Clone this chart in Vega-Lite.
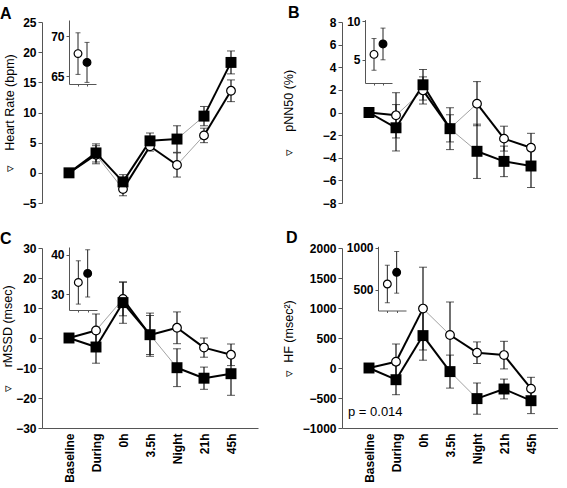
{
  "$schema": "https://vega.github.io/schema/vega-lite/v6.json",
  "padding": {"left": 0, "top": 4, "right": 0, "bottom": 0},
  "datasets": {
    "main": [
      {"p":"A","g":"open","time":"Baseline","t":0,"mean":0,"sem":0,"sig":"yes"},
      {"p":"A","g":"open","time":"During","t":1,"mean":3.0,"sem":1.5,"sig":"yes"},
      {"p":"A","g":"open","time":"0h","t":2,"mean":-2.7,"sem":1.1,"sig":"no"},
      {"p":"A","g":"open","time":"3.5h","t":3,"mean":4.4,"sem":0.8,"sig":"yes"},
      {"p":"A","g":"open","time":"Night","t":4,"mean":1.3,"sem":2.0,"sig":"yes"},
      {"p":"A","g":"open","time":"21h","t":5,"mean":6.2,"sem":1.2,"sig":"no"},
      {"p":"A","g":"open","time":"45h","t":6,"mean":13.6,"sem":1.8,"sig":"yes"},
      {"p":"A","g":"filled","time":"Baseline","t":0,"mean":0,"sem":0,"sig":"yes"},
      {"p":"A","g":"filled","time":"During","t":1,"mean":3.3,"sem":1.5,"sig":"yes"},
      {"p":"A","g":"filled","time":"0h","t":2,"mean":-1.5,"sem":1.2,"sig":"yes"},
      {"p":"A","g":"filled","time":"3.5h","t":3,"mean":5.3,"sem":1.3,"sig":"yes"},
      {"p":"A","g":"filled","time":"Night","t":4,"mean":5.6,"sem":2.2,"sig":"yes"},
      {"p":"A","g":"filled","time":"21h","t":5,"mean":9.4,"sem":1.6,"sig":"no"},
      {"p":"A","g":"filled","time":"45h","t":6,"mean":18.3,"sem":1.9,"sig":"yes"},

      {"p":"B","g":"open","time":"Baseline","t":0,"mean":0,"sem":0,"sig":"yes"},
      {"p":"B","g":"open","time":"During","t":1,"mean":-0.25,"sem":2.0,"sig":"yes"},
      {"p":"B","g":"open","time":"0h","t":2,"mean":1.95,"sem":1.2,"sig":"no"},
      {"p":"B","g":"open","time":"3.5h","t":3,"mean":-1.4,"sem":1.2,"sig":"yes"},
      {"p":"B","g":"open","time":"Night","t":4,"mean":0.78,"sem":1.95,"sig":"no"},
      {"p":"B","g":"open","time":"21h","t":5,"mean":-2.31,"sem":1.1,"sig":"yes"},
      {"p":"B","g":"open","time":"45h","t":6,"mean":-3.11,"sem":1.27,"sig":"yes"},
      {"p":"B","g":"filled","time":"Baseline","t":0,"mean":0,"sem":0,"sig":"yes"},
      {"p":"B","g":"filled","time":"During","t":1,"mean":-1.35,"sem":2.05,"sig":"yes"},
      {"p":"B","g":"filled","time":"0h","t":2,"mean":2.45,"sem":1.35,"sig":"yes"},
      {"p":"B","g":"filled","time":"3.5h","t":3,"mean":-1.43,"sem":1.85,"sig":"yes"},
      {"p":"B","g":"filled","time":"Night","t":4,"mean":-3.43,"sem":2.4,"sig":"no"},
      {"p":"B","g":"filled","time":"21h","t":5,"mean":-4.32,"sem":1.35,"sig":"yes"},
      {"p":"B","g":"filled","time":"45h","t":6,"mean":-4.73,"sem":1.9,"sig":"yes"},

      {"p":"C","g":"open","time":"Baseline","t":0,"mean":0,"sem":0,"sig":"yes"},
      {"p":"C","g":"open","time":"During","t":1,"mean":2.5,"sem":5.5,"sig":"yes"},
      {"p":"C","g":"open","time":"0h","t":2,"mean":13.0,"sem":5.6,"sig":"no"},
      {"p":"C","g":"open","time":"3.5h","t":3,"mean":1.0,"sem":6.5,"sig":"yes"},
      {"p":"C","g":"open","time":"Night","t":4,"mean":3.4,"sem":5.3,"sig":"yes"},
      {"p":"C","g":"open","time":"21h","t":5,"mean":-3.2,"sem":3.2,"sig":"yes"},
      {"p":"C","g":"open","time":"45h","t":6,"mean":-5.6,"sem":3.6,"sig":"yes"},
      {"p":"C","g":"filled","time":"Baseline","t":0,"mean":0,"sem":0,"sig":"yes"},
      {"p":"C","g":"filled","time":"During","t":1,"mean":-3.0,"sem":5.4,"sig":"yes"},
      {"p":"C","g":"filled","time":"0h","t":2,"mean":11.8,"sem":6.9,"sig":"yes"},
      {"p":"C","g":"filled","time":"3.5h","t":3,"mean":1.1,"sem":7.2,"sig":"yes"},
      {"p":"C","g":"filled","time":"Night","t":4,"mean":-9.9,"sem":6.3,"sig":"no"},
      {"p":"C","g":"filled","time":"21h","t":5,"mean":-13.4,"sem":3.7,"sig":"yes"},
      {"p":"C","g":"filled","time":"45h","t":6,"mean":-11.9,"sem":7.2,"sig":"yes"},

      {"p":"D","g":"open","time":"Baseline","t":0,"mean":0,"sem":0,"sig":"yes"},
      {"p":"D","g":"open","time":"During","t":1,"mean":105,"sem":295,"sig":"yes"},
      {"p":"D","g":"open","time":"0h","t":2,"mean":990,"sem":690,"sig":"yes"},
      {"p":"D","g":"open","time":"3.5h","t":3,"mean":550,"sem":550,"sig":"no"},
      {"p":"D","g":"open","time":"Night","t":4,"mean":255,"sem":180,"sig":"yes"},
      {"p":"D","g":"open","time":"21h","t":5,"mean":215,"sem":230,"sig":"yes"},
      {"p":"D","g":"open","time":"45h","t":6,"mean":-345,"sem":190,"sig":"yes"},
      {"p":"D","g":"filled","time":"Baseline","t":0,"mean":0,"sem":0,"sig":"yes"},
      {"p":"D","g":"filled","time":"During","t":1,"mean":-195,"sem":250,"sig":"yes"},
      {"p":"D","g":"filled","time":"0h","t":2,"mean":540,"sem":410,"sig":"yes"},
      {"p":"D","g":"filled","time":"3.5h","t":3,"mean":-60,"sem":275,"sig":"yes"},
      {"p":"D","g":"filled","time":"Night","t":4,"mean":-510,"sem":260,"sig":"no"},
      {"p":"D","g":"filled","time":"21h","t":5,"mean":-350,"sem":165,"sig":"yes"},
      {"p":"D","g":"filled","time":"45h","t":6,"mean":-545,"sem":215,"sig":"yes"}
    ],
    "inset": [
      {"p":"A","g":"open","ix":1,"mean":67.8,"sem":2.6},
      {"p":"A","g":"filled","ix":2,"mean":66.7,"sem":2.5},
      {"p":"B","g":"open","ix":1,"mean":5.7,"sem":2.05},
      {"p":"B","g":"filled","ix":2,"mean":7.05,"sem":2.05},
      {"p":"C","g":"open","ix":1,"mean":33.0,"sem":5.5},
      {"p":"C","g":"filled","ix":2,"mean":35.3,"sem":6.0},
      {"p":"D","g":"open","ix":1,"mean":568,"sem":225},
      {"p":"D","g":"filled","ix":2,"mean":708,"sem":250}
    ],
    "notes": [
      {"p":"D","label":"p = 0.014","time":"Baseline","y":-800}
    ]
  },
  "columns": 2,
  "spacing": {"row": 21, "column": 24},
  "concat": [
    {
      "title": {"text": "A", "anchor": "start", "frame": "group", "dx": -42, "offset": -5.5},
      "width": 216, "height": 181,
      "layer": [
        {
          "data": {"name": "main"},
          "transform": [{"filter": "datum.p === 'A'"}],
          "encoding": {
            "x": {"field": "time", "type": "nominal", "scale": {"type": "point", "domain": ["Baseline","During","0h","3.5h","Night","21h","45h"], "padding": 1}, "axis": null},
            "y": {"field": "mean", "type": "quantitative", "scale": {"domain": [-5, 25], "nice": false, "zero": false}, "axis": {"values": [-5,0,5,10,15,20,25], "format": "d", "title": "▿\u00a0\u00a0\u00a0\u00a0Heart Rate (bpm)", "tickSize": 4, "labelPadding": 2, "titlePadding": 6}}
          },
          "layer": [
            {
              "transform": [
                {"window": [{"op": "lag", "field": "mean", "as": "pm"}, {"op": "lag", "field": "time", "as": "pt"}], "groupby": ["g"], "sort": [{"field": "t"}]},
                {"filter": "datum.pt != null"}
              ],
              "mark": {"type": "rule"},
              "encoding": {
                "x2": {"field": "pt"},
                "y2": {"field": "pm"},
                "strokeWidth": {"field": "sig", "type": "nominal", "scale": {"domain": ["yes","no"], "range": [2, 0.8]}, "legend": null},
                "color": {"field": "sig", "type": "nominal", "scale": {"domain": ["yes","no"], "range": ["#000000","#8a8a8a"]}, "legend": null}
              }
            },
            {
              "mark": {"type": "errorbar", "ticks": {"size": 8, "color": "#111"}, "rule": {"color": "#111", "strokeWidth": 1.2}},
              "encoding": {"yError": {"field": "sem"}}
            },
            {
              "transform": [{"filter": "datum.g === 'open'"}],
              "mark": {"type": "point", "shape": "circle", "filled": true, "fill": "white", "stroke": "black", "strokeWidth": 1.2, "size": 75, "opacity": 1}
            },
            {
              "transform": [{"filter": "datum.g === 'filled'"}],
              "mark": {"type": "square", "size": 120, "color": "black", "opacity": 1}
            }
          ]
        },
        {
          "data": {"name": "inset"},
          "transform": [{"filter": "datum.p === 'A'"}],
          "encoding": {
            "x": {"field": "ix", "type": "quantitative", "scale": {"domain": [0, 3], "range": [27, 54], "nice": false, "zero": false}, "axis": {"orient": "bottom", "offset": -119, "values": [1, 2], "labels": false, "tickSize": 2, "title": null}},
            "y": {"field": "mean", "type": "quantitative", "scale": {"domain": [64, 72], "range": [62, -2], "nice": false, "zero": false}, "axis": {"orient": "left", "offset": -27, "values": [65, 70], "title": null, "tickSize": 3, "labelPadding": 2}}
          },
          "layer": [
            {"mark": {"type": "errorbar", "ticks": {"size": 5, "color": "#222"}, "rule": {"color": "#222", "strokeWidth": 1}}, "encoding": {"yError": {"field": "sem"}}},
            {"mark": {"type": "point", "shape": "circle", "filled": true, "stroke": "black", "strokeWidth": 1.2, "size": 60, "opacity": 1},
             "encoding": {"fill": {"field": "g", "type": "nominal", "scale": {"domain": ["open","filled"], "range": ["white","black"]}, "legend": null}}}
          ]
        }
      ],
      "resolve": {"scale": {"x": "independent", "y": "independent"}, "axis": {"x": "independent", "y": "independent"}}
    },
    {
      "title": {"text": "B", "anchor": "start", "frame": "group", "dx": -54, "offset": -5.5},
      "width": 216, "height": 181,
      "layer": [
        {
          "data": {"name": "main"},
          "transform": [{"filter": "datum.p === 'B'"}],
          "encoding": {
            "x": {"field": "time", "type": "nominal", "scale": {"type": "point", "domain": ["Baseline","During","0h","3.5h","Night","21h","45h"], "padding": 1}, "axis": null},
            "y": {"field": "mean", "type": "quantitative", "scale": {"domain": [-8, 8], "nice": false, "zero": false}, "axis": {"values": [-8,-6,-4,-2,0,2,4,6,8], "format": "d", "title": "▿\u00a0\u00a0\u00a0\u00a0\u00a0pNN50 (%)", "tickSize": 4, "labelPadding": 2, "titlePadding": 27}}
          },
          "layer": [
            {
              "transform": [
                {"window": [{"op": "lag", "field": "mean", "as": "pm"}, {"op": "lag", "field": "time", "as": "pt"}], "groupby": ["g"], "sort": [{"field": "t"}]},
                {"filter": "datum.pt != null"}
              ],
              "mark": {"type": "rule"},
              "encoding": {
                "x2": {"field": "pt"},
                "y2": {"field": "pm"},
                "strokeWidth": {"field": "sig", "type": "nominal", "scale": {"domain": ["yes","no"], "range": [2, 0.8]}, "legend": null},
                "color": {"field": "sig", "type": "nominal", "scale": {"domain": ["yes","no"], "range": ["#000000","#8a8a8a"]}, "legend": null}
              }
            },
            {
              "mark": {"type": "errorbar", "ticks": {"size": 8, "color": "#111"}, "rule": {"color": "#111", "strokeWidth": 1.2}},
              "encoding": {"yError": {"field": "sem"}}
            },
            {
              "transform": [{"filter": "datum.g === 'open'"}],
              "mark": {"type": "point", "shape": "circle", "filled": true, "fill": "white", "stroke": "black", "strokeWidth": 1.2, "size": 75, "opacity": 1}
            },
            {
              "transform": [{"filter": "datum.g === 'filled'"}],
              "mark": {"type": "square", "size": 120, "color": "black", "opacity": 1}
            }
          ]
        },
        {
          "data": {"name": "inset"},
          "transform": [{"filter": "datum.p === 'B'"}],
          "encoding": {
            "x": {"field": "ix", "type": "quantitative", "scale": {"domain": [0, 3], "range": [23, 50], "nice": false, "zero": false}, "axis": {"orient": "bottom", "offset": -120, "values": [1, 2], "labels": false, "tickSize": 2, "title": null}},
            "y": {"field": "mean", "type": "quantitative", "scale": {"domain": [2, 10.2], "range": [61, -2.4], "nice": false, "zero": false}, "axis": {"orient": "left", "offset": -23, "values": [5, 10], "title": null, "tickSize": 3, "labelPadding": 2}}
          },
          "layer": [
            {"mark": {"type": "errorbar", "ticks": {"size": 5, "color": "#222"}, "rule": {"color": "#222", "strokeWidth": 1}}, "encoding": {"yError": {"field": "sem"}}},
            {"mark": {"type": "point", "shape": "circle", "filled": true, "stroke": "black", "strokeWidth": 1.2, "size": 60, "opacity": 1},
             "encoding": {"fill": {"field": "g", "type": "nominal", "scale": {"domain": ["open","filled"], "range": ["white","black"]}, "legend": null}}}
          ]
        }
      ],
      "resolve": {"scale": {"x": "independent", "y": "independent"}, "axis": {"x": "independent", "y": "independent"}}
    },
    {
      "title": {"text": "C", "anchor": "start", "frame": "group", "dx": -42, "offset": -4.5},
      "width": 216, "height": 180,
      "layer": [
        {
          "data": {"name": "main"},
          "transform": [{"filter": "datum.p === 'C'"}],
          "encoding": {
            "x": {"field": "time", "type": "nominal", "scale": {"type": "point", "domain": ["Baseline","During","0h","3.5h","Night","21h","45h"], "padding": 1}, "axis": {"title": null, "labelAngle": -90, "ticks": false, "labelPadding": 5, "labelFontSize": 12}},
            "y": {"field": "mean", "type": "quantitative", "scale": {"domain": [-30, 30], "nice": false, "zero": false}, "axis": {"values": [-30,-20,-10,0,10,20,30], "format": "d", "title": "▿\u00a0\u00a0\u00a0\u00a0\u00a0rMSSD (msec)", "tickSize": 4, "labelPadding": 2, "titlePadding": 1}}
          },
          "layer": [
            {
              "transform": [
                {"window": [{"op": "lag", "field": "mean", "as": "pm"}, {"op": "lag", "field": "time", "as": "pt"}], "groupby": ["g"], "sort": [{"field": "t"}]},
                {"filter": "datum.pt != null"}
              ],
              "mark": {"type": "rule"},
              "encoding": {
                "x2": {"field": "pt"},
                "y2": {"field": "pm"},
                "strokeWidth": {"field": "sig", "type": "nominal", "scale": {"domain": ["yes","no"], "range": [2, 0.8]}, "legend": null},
                "color": {"field": "sig", "type": "nominal", "scale": {"domain": ["yes","no"], "range": ["#000000","#8a8a8a"]}, "legend": null}
              }
            },
            {
              "mark": {"type": "errorbar", "ticks": {"size": 8, "color": "#111"}, "rule": {"color": "#111", "strokeWidth": 1.2}},
              "encoding": {"yError": {"field": "sem"}}
            },
            {
              "transform": [{"filter": "datum.g === 'open'"}],
              "mark": {"type": "point", "shape": "circle", "filled": true, "fill": "white", "stroke": "black", "strokeWidth": 1.2, "size": 75, "opacity": 1}
            },
            {
              "transform": [{"filter": "datum.g === 'filled'"}],
              "mark": {"type": "square", "size": 120, "color": "black", "opacity": 1}
            }
          ]
        },
        {
          "data": {"name": "inset"},
          "transform": [{"filter": "datum.p === 'C'"}],
          "encoding": {
            "x": {"field": "ix", "type": "quantitative", "scale": {"domain": [0, 3], "range": [27, 55], "nice": false, "zero": false}, "axis": {"orient": "bottom", "offset": -118, "values": [1, 2], "labels": false, "tickSize": 2, "title": null}},
            "y": {"field": "mean", "type": "quantitative", "scale": {"domain": [26, 42], "range": [62, -1], "nice": false, "zero": false}, "axis": {"orient": "left", "offset": -27, "values": [30, 40], "title": null, "tickSize": 3, "labelPadding": 2}}
          },
          "layer": [
            {"mark": {"type": "errorbar", "ticks": {"size": 5, "color": "#222"}, "rule": {"color": "#222", "strokeWidth": 1}}, "encoding": {"yError": {"field": "sem"}}},
            {"mark": {"type": "point", "shape": "circle", "filled": true, "stroke": "black", "strokeWidth": 1.2, "size": 60, "opacity": 1},
             "encoding": {"fill": {"field": "g", "type": "nominal", "scale": {"domain": ["open","filled"], "range": ["white","black"]}, "legend": null}}}
          ]
        }
      ],
      "resolve": {"scale": {"x": "independent", "y": "independent"}, "axis": {"x": "independent", "y": "independent"}}
    },
    {
      "title": {"text": "D", "anchor": "start", "frame": "group", "dx": -56, "offset": -4.5},
      "width": 216, "height": 180,
      "layer": [
        {
          "data": {"name": "main"},
          "transform": [{"filter": "datum.p === 'D'"}],
          "encoding": {
            "x": {"field": "time", "type": "nominal", "scale": {"type": "point", "domain": ["Baseline","During","0h","3.5h","Night","21h","45h"], "padding": 1}, "axis": {"title": null, "labelAngle": -90, "ticks": false, "labelPadding": 5, "labelFontSize": 12}},
            "y": {"field": "mean", "type": "quantitative", "scale": {"domain": [-1000, 2000], "nice": false, "zero": false}, "axis": {"values": [-1000,-500,0,500,1000,1500,2000], "format": "d", "title": "▿\u00a0\u00a0HF (msec²)", "tickSize": 4, "labelPadding": 2, "titlePadding": 7}}
          },
          "layer": [
            {
              "transform": [
                {"window": [{"op": "lag", "field": "mean", "as": "pm"}, {"op": "lag", "field": "time", "as": "pt"}], "groupby": ["g"], "sort": [{"field": "t"}]},
                {"filter": "datum.pt != null"}
              ],
              "mark": {"type": "rule"},
              "encoding": {
                "x2": {"field": "pt"},
                "y2": {"field": "pm"},
                "strokeWidth": {"field": "sig", "type": "nominal", "scale": {"domain": ["yes","no"], "range": [2, 0.8]}, "legend": null},
                "color": {"field": "sig", "type": "nominal", "scale": {"domain": ["yes","no"], "range": ["#000000","#8a8a8a"]}, "legend": null}
              }
            },
            {
              "mark": {"type": "errorbar", "ticks": {"size": 8, "color": "#111"}, "rule": {"color": "#111", "strokeWidth": 1.2}},
              "encoding": {"yError": {"field": "sem"}}
            },
            {
              "transform": [{"filter": "datum.g === 'open'"}],
              "mark": {"type": "point", "shape": "circle", "filled": true, "fill": "white", "stroke": "black", "strokeWidth": 1.2, "size": 75, "opacity": 1}
            },
            {
              "transform": [{"filter": "datum.g === 'filled'"}],
              "mark": {"type": "square", "size": 120, "color": "black", "opacity": 1}
            },
            {
              "data": {"name": "notes"},
              "mark": {"type": "text", "align": "left", "baseline": "alphabetic", "dx": -21, "fontSize": 13, "font": "Liberation Sans", "color": "black"},
              "encoding": {"y": {"field": "y", "type": "quantitative"}, "text": {"field": "label"}}
            }
          ]
        },
        {
          "data": {"name": "inset"},
          "transform": [{"filter": "datum.p === 'D'"}],
          "encoding": {
            "x": {"field": "ix", "type": "quantitative", "scale": {"domain": [0, 3], "range": [36, 64], "nice": false, "zero": false}, "axis": {"orient": "bottom", "offset": -117.5, "values": [1, 2], "labels": false, "tickSize": 2, "title": null}},
            "y": {"field": "mean", "type": "quantitative", "scale": {"domain": [250, 1020], "range": [62.5, -1.7], "nice": false, "zero": false}, "axis": {"orient": "left", "offset": -36, "values": [500, 1000], "format": "d", "title": null, "tickSize": 3, "labelPadding": 2}}
          },
          "layer": [
            {"mark": {"type": "errorbar", "ticks": {"size": 5, "color": "#222"}, "rule": {"color": "#222", "strokeWidth": 1}}, "encoding": {"yError": {"field": "sem"}}},
            {"mark": {"type": "point", "shape": "circle", "filled": true, "stroke": "black", "strokeWidth": 1.2, "size": 60, "opacity": 1},
             "encoding": {"fill": {"field": "g", "type": "nominal", "scale": {"domain": ["open","filled"], "range": ["white","black"]}, "legend": null}}}
          ]
        }
      ],
      "resolve": {"scale": {"x": "independent", "y": "independent"}, "axis": {"x": "independent", "y": "independent"}}
    }
  ],
  "config": {
    "view": {"stroke": null},
    "axis": {"grid": false, "labelFont": "Liberation Sans", "labelFontWeight": "bold", "labelFontSize": 12, "labelColor": "#000", "titleFont": "Liberation Sans", "titleFontWeight": "normal", "titleFontSize": 12.5, "titleColor": "#000", "domainColor": "#555", "tickColor": "#555"},
    "title": {"font": "Liberation Sans", "fontSize": 16, "fontWeight": "bold", "color": "#000"}
  }
}
